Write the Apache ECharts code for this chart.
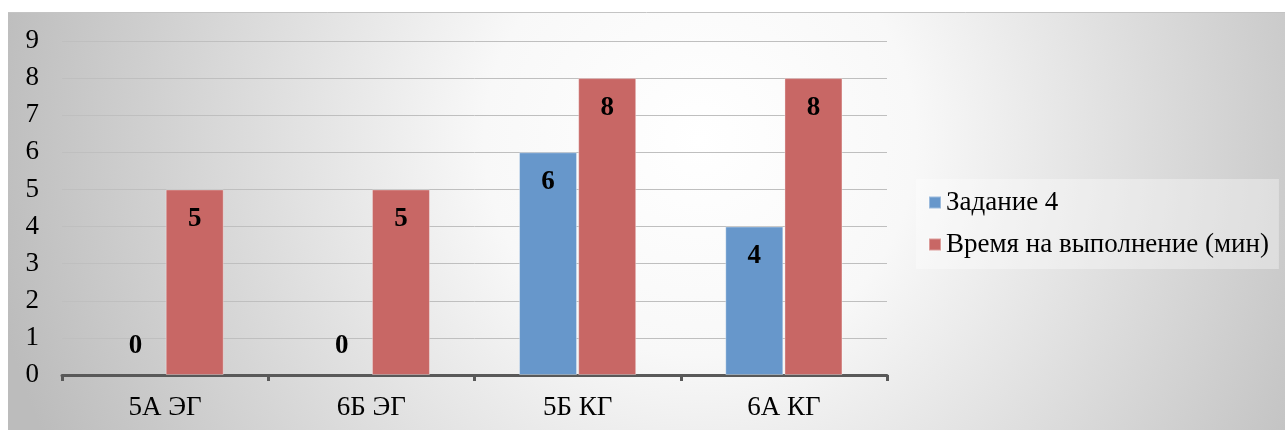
<!DOCTYPE html>
<html>
<head>
<meta charset="utf-8">
<script src="https://cdn.jsdelivr.net/npm/echarts@6/dist/echarts.min.js"></script>
<style>
html,body{margin:0;padding:0;background:#ffffff;}
#chart{width:1285px;height:430px;}
</style>
</head>
<body>
<div id="chart"></div>
<script>
const categories = ['5А ЭГ', '6Б ЭГ', '5Б КГ', '6А КГ'];
const seriesNames = ['Задание 4', 'Время на выполнение (мин)'];
const task4 = [0, 0, 6, 4];
const timeMin = [5, 5, 8, 8];
const yTicks = [0, 1, 2, 3, 4, 5, 6, 7, 8, 9];

const FONT = '"Liberation Serif", "Times New Roman", serif';
const colors = ['#6797cb', '#c86765'];

function buildData(arr) {
  return arr.map(v => v === 0
    ? { value: v, label: { position: 'top', distance: 15 }, itemStyle: { borderWidth: 0 } }
    : { value: v });
}

const chart = echarts.init(document.getElementById('chart'), null, { renderer: 'canvas' });
chart.setOption({
  animation: false,
  backgroundColor: '#ffffff',
  graphic: [
    {
      type: 'rect', z: -10, silent: true,
      shape: { x: 8, y: 12, width: 1277, height: 418 },
      style: {
        fill: {
          type: 'radial', x: 700, y: 140, r: 720, global: true,
          colorStops: [
            { offset: 0, color: '#ffffff' },
            { offset: 0.3, color: '#f8f8f8' },
            { offset: 1, color: '#bcbcbc' }
          ]
        }
      }
    },
    {
      type: 'line', z: -9, silent: true,
      shape: { x1: 8, y1: 12.5, x2: 1285, y2: 12.5 },
      style: { stroke: '#c4c4c4', lineWidth: 1 }
    }
  ],
  color: colors,
  grid: { left: 62, right: 398, top: 41, bottom: 55, containLabel: false },
  legend: {
    orient: 'vertical',
    left: 916, top: 179,
    padding: [10, 10, 11, 12],
    itemGap: 15,
    backgroundColor: 'rgba(255,255,255,0.35)',
    icon: 'rect', itemWidth: 12, itemHeight: 12,
    textStyle: { fontFamily: FONT, fontSize: 27, lineHeight: 27, color: '#000000' },
    data: seriesNames
  },
  xAxis: {
    type: 'category',
    data: categories,
    boundaryGap: true,
    axisLine: { lineStyle: { color: '#595959', width: 3 } },
    axisTick: { show: true, alignWithLabel: false, length: 6, lineStyle: { color: '#595959', width: 3 } },
    axisLabel: { fontFamily: FONT, fontSize: 27, color: '#000000', margin: 19 }
  },
  yAxis: {
    type: 'value',
    min: yTicks[0], max: yTicks[yTicks.length - 1], interval: 1,
    axisLine: { show: false },
    axisTick: { show: false },
    axisLabel: { fontFamily: FONT, fontSize: 27, color: '#000000', margin: 23 },
    splitLine: { lineStyle: { color: '#bfbfbf', width: 1 } }
  },
  series: [
    {
      name: seriesNames[0], type: 'bar', data: buildData(task4),
      barWidth: 58, barGap: '2%',
      itemStyle: { color: colors[0], borderColor: 'rgba(255,255,255,0.35)', borderWidth: 1 },
      label: { show: true, position: 'insideTop', distance: 16, fontFamily: FONT, fontSize: 27, fontWeight: 'bold', color: '#000000' }
    },
    {
      name: seriesNames[1], type: 'bar', data: buildData(timeMin),
      barWidth: 58, barGap: '2%',
      itemStyle: { color: colors[1], borderColor: 'rgba(255,255,255,0.35)', borderWidth: 1 },
      label: { show: true, position: 'insideTop', distance: 16, fontFamily: FONT, fontSize: 27, fontWeight: 'bold', color: '#000000' }
    }
  ]
});
</script>
</body>
</html>
